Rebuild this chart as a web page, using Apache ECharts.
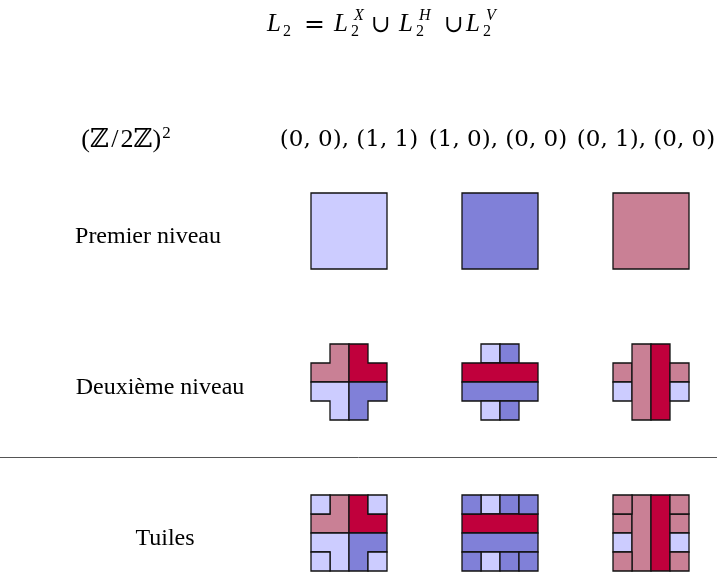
<!DOCTYPE html>
<html><head><meta charset="utf-8">
<script src="https://cdn.jsdelivr.net/npm/echarts@6/dist/echarts.min.js"></script>
<style>html,body{margin:0;padding:0;background:#fff}#c{width:717px;height:576px}</style>
</head><body><div id="c"></div>
<script>
// ---------- data ----------
const columnLabels = ['(0, 0), (1, 1)', '(1, 0), (0, 0)', '(0, 1), (0, 0)'];
const groupLabel = ['(ℤ/2ℤ)', '2'];
const rowLabels = ['Premier niveau', 'Deuxième niveau', 'Tuiles'];
// colour keys: A = lavande, B = bleu, C = rose, D = pourpre
// pieces: [colourKey, polygon in cell units (4x4 grid)]
const premierNiveau = [
  [['A', [[0,0],[4,0],[4,4],[0,4]]]],
  [['B', [[0,0],[4,0],[4,4],[0,4]]]],
  [['C', [[0,0],[4,0],[4,4],[0,4]]]]
];
const deuxiemeNiveau = [
  [
    ['C', [[1,0],[2,0],[2,2],[0,2],[0,1],[1,1]]],
    ['D', [[2,0],[3,0],[3,1],[4,1],[4,2],[2,2]]],
    ['A', [[0,2],[2,2],[2,4],[1,4],[1,3],[0,3]]],
    ['B', [[2,2],[4,2],[4,3],[3,3],[3,4],[2,4]]]
  ],
  [
    ['A', [[1,0],[2,0],[2,1],[1,1]]],
    ['B', [[2,0],[3,0],[3,1],[2,1]]],
    ['D', [[0,1],[4,1],[4,2],[0,2]]],
    ['B', [[0,2],[4,2],[4,3],[0,3]]],
    ['A', [[1,3],[2,3],[2,4],[1,4]]],
    ['B', [[2,3],[3,3],[3,4],[2,4]]]
  ],
  [
    ['C', [[0,1],[1,1],[1,2],[0,2]]],
    ['A', [[0,2],[1,2],[1,3],[0,3]]],
    ['C', [[1,0],[2,0],[2,4],[1,4]]],
    ['D', [[2,0],[3,0],[3,4],[2,4]]],
    ['C', [[3,1],[4,1],[4,2],[3,2]]],
    ['A', [[3,2],[4,2],[4,3],[3,3]]]
  ]
];
const coinsTuiles = [
  [['A', [[0,0],[1,0],[1,1],[0,1]]], ['A', [[3,0],[4,0],[4,1],[3,1]]], ['A', [[0,3],[1,3],[1,4],[0,4]]], ['A', [[3,3],[4,3],[4,4],[3,4]]]],
  [['B', [[0,0],[1,0],[1,1],[0,1]]], ['B', [[3,0],[4,0],[4,1],[3,1]]], ['B', [[0,3],[1,3],[1,4],[0,4]]], ['B', [[3,3],[4,3],[4,4],[3,4]]]],
  [['C', [[0,0],[1,0],[1,1],[0,1]]], ['C', [[3,0],[4,0],[4,1],[3,1]]], ['C', [[0,3],[1,3],[1,4],[0,4]]], ['C', [[3,3],[4,3],[4,4],[3,4]]]]
];
const tuiles = deuxiemeNiveau.map((p, i) => p.concat(coinsTuiles[i]));
const levels = [premierNiveau, deuxiemeNiveau, tuiles];

// ---------- layout & style ----------
const COLORS = { A: '#ccccff', B: '#8080d8', C: '#c98095', D: '#c0003c' };
const COL_X = [311, 462, 613];
const ROW_Y = [193, 344, 495];
const CELL = 19;
const FONT = '"Liberation Serif", "DejaVu Serif", serif';
const FONT2 = '"DejaVu Serif", serif';
const FS = 24;

const items = [];
levels.forEach((lvl, r) => lvl.forEach((pieces, c) => pieces.forEach(p => {
  items.push({ row: r, col: c, key: p[0], poly: p[1] });
})));

function txt(x, y, s, size, fam) {
  return { type: 'text', x: x, y: y,
    style: { text: s, font: (size || FS) + 'px ' + (fam || FONT), fill: '#000',
      textAlign: 'center', textVerticalAlign: 'middle' } };
}
function mtxt(x, y, s, size, italic, fam) {
  return { type: 'text', x: x, y: y, style: { text: s,
    font: (italic ? 'italic ' : '') + size + 'px ' + (fam || FONT), fill: '#000',
    textAlign: 'left', textVerticalAlign: 'middle' } };
}

const graphics = [];
// title  L2 = L2^X ∪ L2^H ∪ L2^V
const MY = 24, SUBY = 32, SUPY = 16, SS = 16, LS = 25;
graphics.push(mtxt(267, MY, 'L', LS, true));
graphics.push(mtxt(283, SUBY, '2', SS, false));
graphics.push(mtxt(304, MY + 1, '=', 25, false, '"DejaVu Sans", sans-serif'));
[[334, 'X', 371], [399, 'H', 444], [466, 'V', null]].forEach(([x, sup, cupX]) => {
  graphics.push(mtxt(x, MY, 'L', LS, true));
  graphics.push(mtxt(x + 17, SUBY, '2', SS, false));
  graphics.push(mtxt(x + 20, SUPY, sup, SS, true));
  if (cupX) graphics.push(mtxt(cupX, MY + 2, '∪', FS, false));
});
// (Z/2Z)^2
graphics.push({ type: 'text', x: 126, y: 140, style: {
  text: '{m|' + groupLabel[0].replace('/', '\u200a/\u200a') + '}{s|' + groupLabel[1] + '}',
  textAlign: 'center', textVerticalAlign: 'middle', fill: '#000',
  rich: {
    m: { fontFamily: FONT, fontSize: 26, lineHeight: 30, verticalAlign: 'middle', fill: '#000' },
    s: { fontFamily: FONT, fontSize: 17, lineHeight: 18, verticalAlign: 'top', fill: '#000', padding: [0, 0, 0, 1] }
  } } });
const COL_LABEL_X = [349, 498, 646];
columnLabels.forEach((s, i) => graphics.push(txt(COL_LABEL_X[i], 140, s, 23, FONT2)));
const ROW_LABEL_X = [148, 160, 165];
rowLabels.forEach((s, i) => graphics.push(txt(ROW_LABEL_X[i], ROW_Y[i] + 2 * CELL + 6, s)));
graphics.push({ type: 'line', shape: { x1: 0, y1: 457.5, x2: 717, y2: 457.5 },
  style: { stroke: '#555', lineWidth: 1 } });

const chart = echarts.init(document.getElementById('c'), null, { renderer: 'canvas' });
chart.setOption({
  animation: false,
  backgroundColor: '#fff',
  grid: { left: 0, right: 0, top: 0, bottom: 0 },
  xAxis: { type: 'value', min: 0, max: 717, show: false },
  yAxis: { type: 'value', min: 0, max: 576, inverse: true, show: false },
  series: [{
    type: 'custom',
    silent: true,
    clip: false,
    data: items.map(it => [COL_X[it.col], ROW_Y[it.row]]),
    renderItem: function (params, api) {
      const it = items[params.dataIndex];
      const ox = api.value(0), oy = api.value(1);
      const pts = it.poly.map(([u, v]) => api.coord([ox + u * CELL, oy + v * CELL]));
      return { type: 'polygon', shape: { points: pts },
        style: { fill: COLORS[it.key], stroke: '#111', lineWidth: 1.3, lineJoin: 'miter' } };
    }
  }],
  graphic: graphics
});
</script></body></html>
